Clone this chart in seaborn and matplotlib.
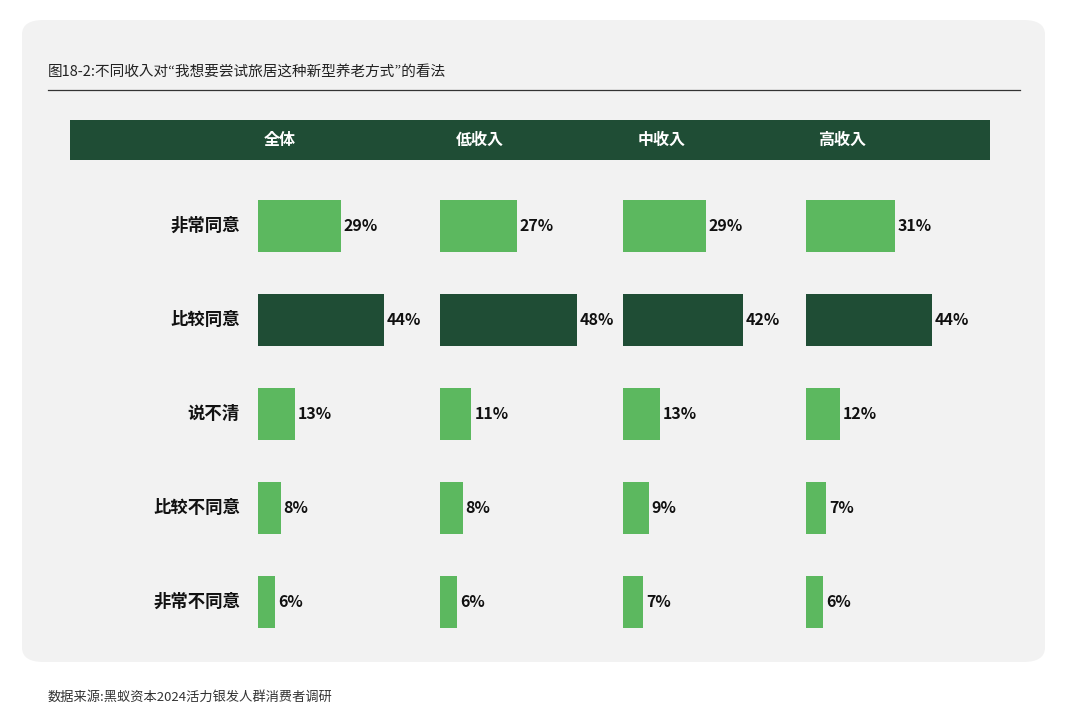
import matplotlib
matplotlib.use("Agg")
import matplotlib.pyplot as plt
from matplotlib.patches import FancyBboxPatch, Rectangle
import seaborn as sns
import pandas as pd

plt.rcParams["font.family"] = ["Noto Sans CJK SC", "Noto Sans CJK JP", "Noto Sans CJK TC",
                               "Noto Sans CJK KR", "DejaVu Sans"]

# ── DATA ─────────────────────────────────────────────────────────────────────
answers = ["非常同意", "比较同意", "说不清", "比较不同意", "非常不同意"]
groups = ["全体", "低收入", "中收入", "高收入"]
overall = [29, 44, 13, 8, 6]
low_income = [27, 48, 11, 8, 6]
mid_income = [29, 42, 13, 9, 7]
high_income = [31, 44, 12, 7, 6]
title = "图18-2:不同收入对“我想要尝试旅居这种新型养老方式”的看法"
source = "数据来源:黑蚁资本2024活力银发人群消费者调研"

LIGHT = "#5CB85F"
DARK = "#1F4D35"
palette = [LIGHT, DARK, LIGHT, LIGHT, LIGHT]

W, H = 1080, 727
fig = plt.figure(figsize=(W / 100, H / 100), dpi=100)
fig.patch.set_facecolor("white")


def fx(x):
    return x / W


def fy(y):
    return 1 - y / H


# background panel
fig.patches.append(FancyBboxPatch((fx(22), fy(662)), fx(1023), 642 / H,
                                  boxstyle="round,pad=0,rounding_size=0.02",
                                  transform=fig.transFigure, facecolor="#F2F2F2",
                                  edgecolor="none", zorder=-2))
fig.text(fx(48), fy(72), title, fontsize=10.5, va="center", color="#222222")
fig.add_artist(plt.Line2D([fx(48), fx(1020)], [fy(90), fy(90)], color="#333333",
                          lw=0.9, transform=fig.transFigure))

# header band
fig.patches.append(Rectangle((fx(70), fy(160)), fx(920), 40 / H, transform=fig.transFigure,
                             facecolor=DARK, edgecolor="none", zorder=-1))
for g, cx in zip(groups, [280, 480, 662, 842]):
    fig.text(fx(cx), fy(140), g, color="white", fontsize=11.5, fontweight="bold",
             ha="center", va="center", zorder=2)

# row labels
for i, a in enumerate(answers):
    fig.text(fx(240), fy(226 + 94 * i), a, fontsize=12.5, fontweight="bold",
             ha="right", va="center", color="#111111")

series = [overall, low_income, mid_income, high_income]
starts = [258, 440, 623, 806]
for vals, x0 in zip(series, starts):
    ax = fig.add_axes([fx(x0), fy(649), fx(160), 470 / H])
    ax.set_zorder(3)
    ax.patch.set_visible(False)
    df = pd.DataFrame({"answer": answers, "pct": vals})
    sns.barplot(data=df, y="answer", x="pct", hue="answer", palette=palette,
                order=answers, hue_order=answers, orient="h", width=0.55,
                legend=False, ax=ax, saturation=1)
    ax.set_xlim(0, 56)
    ax.axis("off")
    for i, v in enumerate(vals):
        ax.text(v + 1, i, f"{v}%", va="center", ha="left", fontsize=11.5,
                fontweight="bold", color="#111111")

fig.text(fx(48), fy(697), source, fontsize=9.5, va="center", color="#333333")

fig.savefig("out.png", dpi=100)
